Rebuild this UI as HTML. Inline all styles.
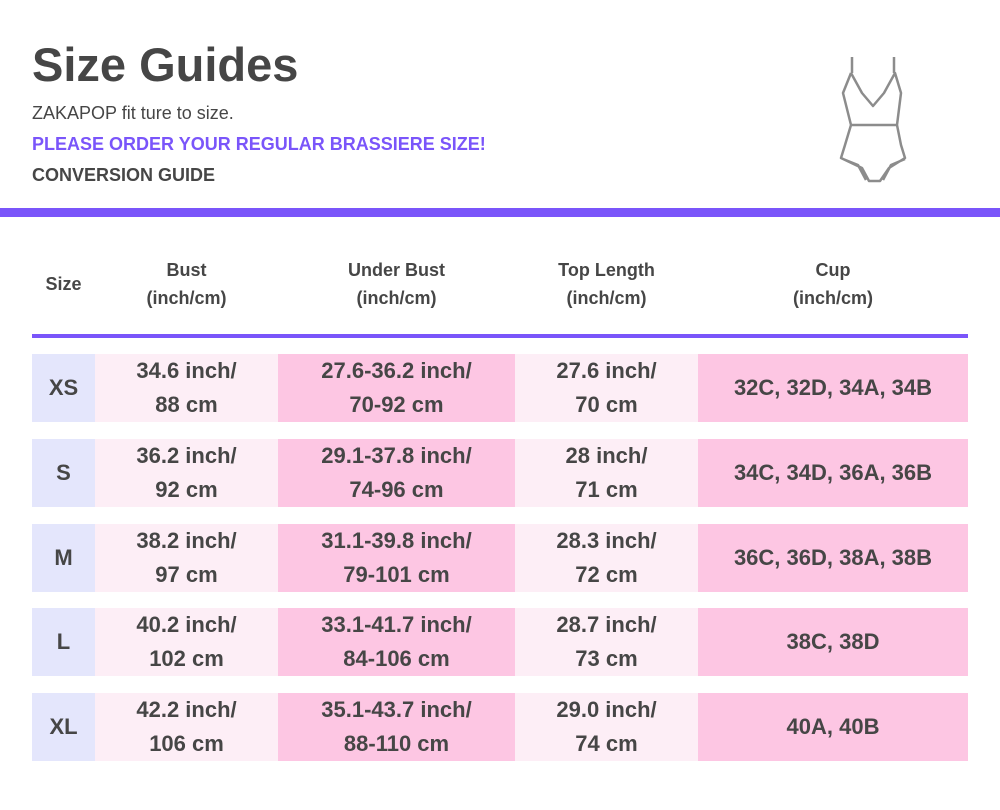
<!DOCTYPE html><html><head><style>
body{margin:0;width:1000px;height:810px;background:#fff;font-family:"Liberation Sans",sans-serif;color:#464646;position:relative;overflow:hidden}
.a{position:absolute}
.c{position:absolute;display:flex;align-items:center;justify-content:center;text-align:center;font-weight:bold;font-size:22px;line-height:34px}
.h{position:absolute;display:flex;align-items:center;justify-content:center;text-align:center;font-weight:bold;font-size:18px;line-height:28px;color:#464646}
</style></head><body>
<div class="a" style="left:32px;top:37px;font-size:47px;font-weight:bold;color:#464646">Size Guides</div>
<div class="a" style="left:32px;top:103px;font-size:18px;color:#464646">ZAKAPOP fit ture to size.</div>
<div class="a" style="left:32px;top:134px;font-size:18px;font-weight:bold;color:#7a55fa">PLEASE ORDER YOUR REGULAR BRASSIERE SIZE!</div>
<div class="a" style="left:32px;top:165px;font-size:18px;font-weight:bold;color:#464646">CONVERSION GUIDE</div>
<svg class="a" style="left:0;top:0" width="1000" height="200"><g fill="none" stroke="#8c8c8c" stroke-width="2.5" stroke-linejoin="round">
<path d="M852 57V73M894 57V73M851 73L843 93L851 125H897L901 93L895 73L884 93L873 106L862 93L851 73M851 125L845 145L841 158L862 168L869 181H880L889 168L905 158L901 145L897 125M843 159L858 165L866 180M905 159L891 165L883 180"/></g></svg>
<div class="a" style="left:0;top:208px;width:1000px;height:9px;background:#7a55fa"></div>
<div class="h" style="left:32px;top:256px;width:63px;height:56px">Size</div>
<div class="h" style="left:95px;top:256px;width:183px;height:56px">Bust<br>(inch/cm)</div>
<div class="h" style="left:278px;top:256px;width:237px;height:56px">Under Bust<br>(inch/cm)</div>
<div class="h" style="left:515px;top:256px;width:183px;height:56px">Top Length<br>(inch/cm)</div>
<div class="h" style="left:698px;top:256px;width:270px;height:56px">Cup<br>(inch/cm)</div>
<div class="a" style="left:32px;top:334px;width:936px;height:4px;background:#7a55fa"></div>
<div id="t"></div>
<script>
var rows=[["XS","34.6 inch/<br>88 cm","27.6-36.2 inch/<br>70-92 cm","27.6 inch/<br>70 cm","32C, 32D, 34A, 34B"],
["S","36.2 inch/<br>92 cm","29.1-37.8 inch/<br>74-96 cm","28 inch/<br>71 cm","34C, 34D, 36A, 36B"],
["M","38.2 inch/<br>97 cm","31.1-39.8 inch/<br>79-101 cm","28.3 inch/<br>72 cm","36C, 36D, 38A, 38B"],
["L","40.2 inch/<br>102 cm","33.1-41.7 inch/<br>84-106 cm","28.7 inch/<br>73 cm","38C, 38D"],
["XL","42.2 inch/<br>106 cm","35.1-43.7 inch/<br>88-110 cm","29.0 inch/<br>74 cm","40A, 40B"]];
var xs=[32,95,278,515,698,968],cols=["#e4e6fc","#fdeef6","#fdc6e3","#fdeef6","#fdc6e3"],tops=[354,439,524,608,693],h="";
rows.forEach(function(r,i){r.forEach(function(t,j){h+='<div class="c" style="left:'+xs[j]+'px;top:'+tops[i]+'px;width:'+(xs[j+1]-xs[j])+'px;height:68px;background:'+cols[j]+'">'+t+'</div>';});});
document.getElementById("t").innerHTML=h;
</script>
</body></html>
